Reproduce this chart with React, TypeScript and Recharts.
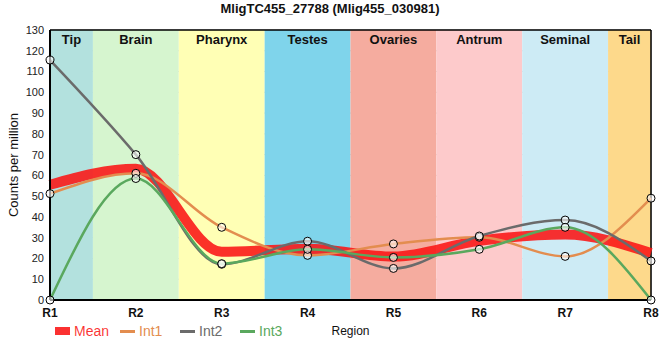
import { LineChart, Line, XAxis, YAxis, CartesianGrid, ReferenceArea, ReferenceLine, Legend } from 'recharts';

document.body.style.margin = '0';

const regions = ['R1', 'R2', 'R3', 'R4', 'R5', 'R6', 'R7', 'R8'];
const meanValues = [55.5, 63.2, 23.2, 24.7, 20.9, 28.5, 31.5, 22.6];
const int1Values = [51.2, 61, 35, 21.5, 27, 30.2, 21, 49];
const int2Values = [115.5, 70, 17.2, 28.3, 15.2, 30.8, 38.5, 18.8];
const int3Values = [0, 58.5, 17.5, 24.4, 20.5, 24.4, 35, 0];

const bandNames = ['Tip', 'Brain', 'Pharynx', 'Testes', 'Ovaries', 'Antrum', 'Seminal', 'Tail'];
const bandStarts = [1, 1.5, 2.5, 3.5, 4.5, 5.5, 6.5, 7.5];
const bandEnds = [1.5, 2.5, 3.5, 4.5, 5.5, 6.5, 7.5, 8];
const bandColors = ['#b3e1de', '#d6f5cf', '#ffffb5', '#7fd4eb', '#f5ac9f', '#fdcacb', '#cdebf5', '#fdd98b'];

const yTicks = [0, 10, 20, 30, 40, 50, 60, 70, 80, 90, 100, 110, 120, 130];
const xTicks = [1, 2, 3, 4, 5, 6, 7, 8];

const data = regions.map((r, i) => ({
  x: i + 1,
  Mean: meanValues[i],
  Int1: int1Values[i],
  Int2: int2Values[i],
  Int3: int3Values[i],
}));

const series = [
  { key: 'Mean', color: 'rgba(250,20,20,0.88)', width: 10, dots: false },
  { key: 'Int1', color: '#e38d4f', width: 2.5, dots: true },
  { key: 'Int2', color: '#6b6b6b', width: 2.5, dots: true },
  { key: 'Int3', color: '#5aa85e', width: 2.5, dots: true },
];

const legendWidths = [65, 60, 60, 60];

const renderLegend = () => (
  <div style={{ display: 'flex', height: 18, alignItems: 'center', fontFamily: 'Arial, "Liberation Sans", sans-serif', fontSize: 14 }}>
    {series.map((s, i) => (
      <div key={s.key} style={{ display: 'flex', alignItems: 'center', width: legendWidths[i] }}>
        <span style={{ display: 'inline-block', width: 15, height: s.key === 'Mean' ? 8 : 3, background: s.color, marginRight: 4 }} />
        <span style={{ color: s.color }}>{s.key}</span>
      </div>
    ))}
  </div>
);

const YLabel = ({ viewBox }: any) => (
  <text
    transform={`translate(13, ${viewBox.y + viewBox.height / 2}) rotate(-90)`}
    textAnchor="middle"
    dominantBaseline="central"
    fontSize={13}
    fill="#111"
    fontFamily="Arial, 'Liberation Sans', sans-serif"
  >
    Counts per million
  </text>
);

export default function App() {
  return (
    <div style={{ position: 'relative', width: 660, height: 360, fontFamily: 'Arial, "Liberation Sans", sans-serif' }}>
      <div style={{ position: 'absolute', top: 1, left: 0, width: 660, textAlign: 'center', fontWeight: 'bold', fontSize: 13, color: '#111', zIndex: 2 }}>
        MligTC455_27788 (Mlig455_030981)
      </div>
      <LineChart width={660} height={360} data={data} margin={{ top: 30, right: 9, bottom: 20, left: 0 }}>
        {bandNames.map((name, i) => (
          <ReferenceArea
            key={name}
            x1={bandStarts[i]}
            x2={bandEnds[i]}
            fill={bandColors[i]}
            fillOpacity={1}
            stroke="none"
            ifOverflow="visible"
            label={{ value: name, position: 'insideTop', offset: 5, fill: '#111', fontWeight: 'bold', fontSize: 13 }}
          />
        ))}
        <CartesianGrid stroke="#c8c8c8" strokeWidth={1} />
        <XAxis
          dataKey="x"
          type="number"
          domain={[1, 8]}
          ticks={xTicks}
          interval={0}
          tickFormatter={(v: number) => regions[v - 1]}
          axisLine={{ stroke: '#000', strokeWidth: 2 }}
          tickLine={false}
          tickMargin={2}
          height={22}
          tick={{ fill: '#111', fontSize: 12, fontWeight: 'bold' }}
          label={{ value: 'Region', position: 'bottom', offset: 4, fill: '#111', fontSize: 12 }}
        />
        <YAxis
          domain={[0, 130]}
          ticks={yTicks}
          interval={0}
          width={50}
          axisLine={{ stroke: '#000', strokeWidth: 2 }}
          tickLine={false}
          tickMargin={0}
          tick={{ fill: '#222', fontSize: 11 }}
          label={<YLabel />}
        />
        <ReferenceLine y={130} stroke="#000" strokeWidth={1.5} />
        <ReferenceLine x={8} stroke="#000" strokeWidth={1.5} />
        {series.map((s) => (
          <Line
            key={s.key}
            type="monotone"
            dataKey={s.key}
            stroke={s.color}
            strokeWidth={s.width}
            dot={s.dots ? { r: 4, fill: '#fff', fillOpacity: 0.6, stroke: '#000', strokeWidth: 1 } : false}
            activeDot={false}
            isAnimationActive={false}
          />
        ))}
        <Legend
          content={renderLegend}
          verticalAlign="bottom"
          align="left"
          wrapperStyle={{ left: 55, width: 300, height: 18 }}
        />
      </LineChart>
    </div>
  );
}
